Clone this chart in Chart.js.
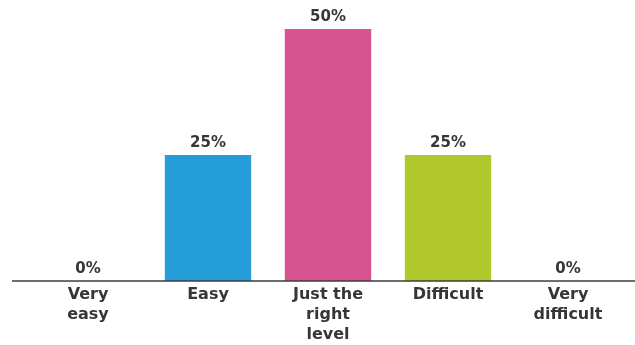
<!DOCTYPE html>
<html>
<head>
<meta charset="utf-8">
<script src="https://cdn.jsdelivr.net/npm/chart.js@4"></script>
<style>
  body { margin: 0; background: #fff; }
  canvas { display: block; }
</style>
</head>
<body>
<canvas id="levelChart" width="635" height="345"></canvas>
<script>
const categories = [['Very', 'easy'], 'Easy', ['Just the', 'right', 'level'], 'Difficult', ['Very', 'difficult']]
const percentages = [0, 25, 50, 25, 0]
const barColors = ['#9e9e9e', '#249dd8', '#d6548f', '#b0c82c', '#9e9e9e']

const textColor = '#363636'
const fontFamily = '"DejaVu Sans", sans-serif'

// value above each bar + baseline that runs past the plot area
const barLabels = {
    id: 'barLabels',
    afterDatasetsDraw(chart) {
        const ctx = chart.ctx
        const meta = chart.getDatasetMeta(0)
        const base = chart.scales.y.getPixelForValue(0)

        ctx.save()
        ctx.strokeStyle = '#3c3c3c'
        ctx.lineWidth = 1.6
        ctx.beginPath()
        ctx.moveTo(12, base)
        ctx.lineTo(chart.width, base)
        ctx.stroke()

        ctx.fillStyle = textColor
        ctx.font = 'bold 15px ' + fontFamily
        ctx.textAlign = 'center'
        ctx.textBaseline = 'middle'
        meta.data.forEach((bar, i) => {
            ctx.fillText(percentages[i] + '%', bar.x, bar.y - 12)
        })
        ctx.restore()
    }
}

new Chart(document.getElementById('levelChart'), {
    type: 'bar',
    data: {
        labels: categories,
        datasets: [{
            data: percentages,
            backgroundColor: barColors,
            borderWidth: 0,
            categoryPercentage: 0.72,
            barPercentage: 1
        }]
    },
    options: {
        responsive: false,
        animation: false,
        layout: {
            padding: { left: 28, right: 7, top: 29, bottom: -4 }
        },
        plugins: {
            legend: { display: false },
            tooltip: { enabled: false }
        },
        scales: {
            x: {
                grid: { display: false, drawTicks: false },
                border: { display: false },
                ticks: {
                    color: textColor,
                    padding: 4,
                    font: { family: fontFamily, size: 16, weight: 'bold', lineHeight: '20px' }
                }
            },
            y: {
                display: false,
                min: 0,
                max: 50
            }
        }
    },
    plugins: [barLabels]
})
</script>
</body>
</html>
